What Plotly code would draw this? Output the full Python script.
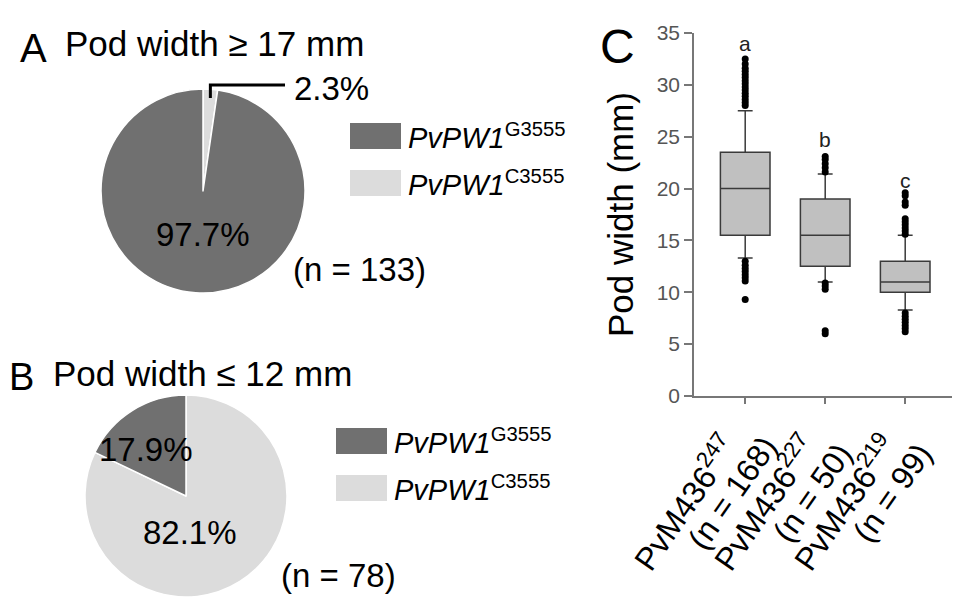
import math
import plotly.graph_objects as go

W, H = 960, 609
FONT = "Liberation Sans, Arial, sans-serif"

# pie panels
genotypes = ["<i>PvPW1</i><sup>G3555</sup>", "<i>PvPW1</i><sup>C3555</sup>"]
pie_colors = ["#707070", "#dcdcdc"]

wide_pct = [97.7, 2.3]      # pod width >= 17 mm
wide_n = 133
narrow_pct = [17.9, 82.1]   # pod width <= 12 mm
narrow_n = 78

# box panel
groups = ["PvM436-247", "PvM436-227", "PvM436-219"]
group_names = ["PvM436<sup>247</sup>", "PvM436<sup>227</sup>", "PvM436<sup>219</sup>"]
group_n = [168, 50, 99]
q1 = [15.5, 12.5, 10.0]
median = [20.0, 15.5, 11.0]
q3 = [23.5, 19.0, 13.0]
lower_whisker = [13.3, 11.0, 8.3]
upper_whisker = [27.5, 21.4, 15.5]
outliers = [
    [28.0, 28.3, 28.6, 28.9, 29.2, 29.5, 29.8, 30.1, 30.4, 30.7, 31.0, 31.3, 31.6, 32.0, 32.5,
     13.0, 12.6, 12.3, 12.0, 11.7, 11.4, 11.1, 9.3],
    [21.6, 22.0, 22.4, 22.8, 23.1, 10.9, 10.6, 10.3, 6.3, 6.0],
    [15.6, 15.9, 16.2, 16.5, 16.8, 17.1, 18.4, 18.7, 19.3, 19.6,
     8.0, 7.7, 7.4, 7.1, 6.8, 6.5, 6.2],
]
letters = ["a", "b", "c"]
letter_y = [34.0, 24.7, 20.8]


def px(x):
    return x / W


def py(y):
    return 1 - y / H


def pie_domain(cx, cy, r):
    return dict(x=[px(cx - r), px(cx + r)], y=[py(cy + r), py(cy - r)])


fig = go.Figure()

A_CX, A_CY, A_R = 195, 183, 102
B_CX, B_CY, B_R = 178, 488, 101

# plotly puts the first slice right of 12 o'clock, so feed the C allele first
for vals, (cx, cy, r) in [(wide_pct, (A_CX, A_CY, A_R)), (narrow_pct, (B_CX, B_CY, B_R))]:
    fig.add_trace(go.Pie(
        values=vals[::-1], labels=genotypes[::-1], sort=False, direction="counterclockwise",
        marker=dict(colors=pie_colors[::-1], line=dict(color="white", width=1.5)),
        textinfo="none", hoverinfo="label+percent", showlegend=False,
        domain=pie_domain(cx, cy, r),
    ))

# boxes
fig.add_trace(go.Box(
    x=groups, q1=q1, median=median, q3=q3,
    lowerfence=lower_whisker, upperfence=upper_whisker,
    fillcolor="#c0c0c0", line=dict(color="#3a3a3a", width=1.5),
    width=0.62, whiskerwidth=0.3, boxpoints=False, showlegend=False,
    xaxis="x", yaxis="y",
))
ox = [g for g, pts in zip(groups, outliers) for _ in pts]
oy = [v for pts in outliers for v in pts]
fig.add_trace(go.Scatter(
    x=ox, y=oy, mode="markers", marker=dict(color="black", size=7),
    showlegend=False, xaxis="x", yaxis="y",
))

ann = []
shapes = []


def text(x, y, s, size, anchor="left", color="black"):
    ann.append(dict(x=px(x), y=py(y), xref="paper", yref="paper", text=s, showarrow=False,
                    xanchor=anchor, yanchor="middle", font=dict(size=size, color=color)))


# panel titles
text(10, 40, "A", 40)
text(55, 35, "Pod width ≥ 17 mm", 35)
text(-1, 369, "B", 38)
text(43, 365, "Pod width ≤ 12 mm", 35)
text(590, 38, "C", 48)

# pie A labels
text(A_CX, A_CY + 43, f"{wide_pct[0]}%", 33, "center")
text(284, 80, f"{wide_pct[1]}%", 33)
text(283, 262, f"(n = {wide_n})", 33)
ang = math.radians(360 * wide_pct[1] / 100 / 2)
lx = A_CX + A_R * math.sin(ang)
shapes.append(dict(type="path", xref="paper", yref="paper",
                   path=f"M {px(lx)},{py(A_CY - A_R + 9)} L {px(lx)},{py(77)} L {px(277)},{py(77)}",
                   line=dict(color="black", width=3)))

# pie B labels
text(138, 441, f"{narrow_pct[0]}%", 33, "center")
text(182, 524, f"{narrow_pct[1]}%", 33, "center")
text(271, 567, f"(n = {narrow_n})", 33)

# legends
for (x0, ys, tx) in [(342, [115, 162], 398), (328, [420, 467], 384)]:
    for y0, c, g in zip(ys, pie_colors, genotypes):
        shapes.append(dict(type="rect", xref="paper", yref="paper",
                           x0=px(x0), x1=px(x0 + 51), y0=py(y0), y1=py(y0 + 26),
                           fillcolor=c, line=dict(width=0)))
        text(tx, y0 + 13, g, 29)

# significance letters
for g, s, yv in zip(groups, letters, letter_y):
    ann.append(dict(x=g, y=yv, xref="x", yref="y", text=s, showarrow=False,
                    font=dict(size=21, color="#222")))

# rotated two-line category labels
for g, name, n in zip(groups, group_names, group_n):
    ann.append(dict(x=g, y=py(494), xref="x", yref="paper", xshift=-61, text=name,
                    textangle=-55, showarrow=False, xanchor="center", yanchor="middle",
                    font=dict(size=32, color="black")))
    ann.append(dict(x=g, y=py(485), xref="x", yref="paper", xshift=-13, text=f"(n = {n})",
                    textangle=-55, showarrow=False, xanchor="center", yanchor="middle",
                    font=dict(size=32, color="black")))

fig.update_layout(
    width=W, height=H, margin=dict(l=0, r=0, t=0, b=0),
    paper_bgcolor="white", plot_bgcolor="white",
    font=dict(family=FONT, color="black"),
    annotations=ann, shapes=shapes,
    xaxis=dict(domain=[px(686), px(950)], anchor="y", type="category",
               range=[-0.64, 2.66], showline=True, linecolor="#777", linewidth=1.5,
               ticks="outside", ticklen=6, tickcolor="#777", tickwidth=1.5,
               showticklabels=False, showgrid=False, zeroline=False, automargin=False),
    yaxis=dict(domain=[py(388), py(25)], anchor="x", range=[0, 35], dtick=5,
               showline=True, linecolor="#777", linewidth=1.5,
               ticks="outside", ticklen=8, tickcolor="#777", tickwidth=1.5,
               tickfont=dict(size=21, color="#555"), showgrid=False, zeroline=False,
               title=dict(text="Pod width (mm)", font=dict(size=35), standoff=12),
               automargin=False),
)

fig.write_html("out.html")
